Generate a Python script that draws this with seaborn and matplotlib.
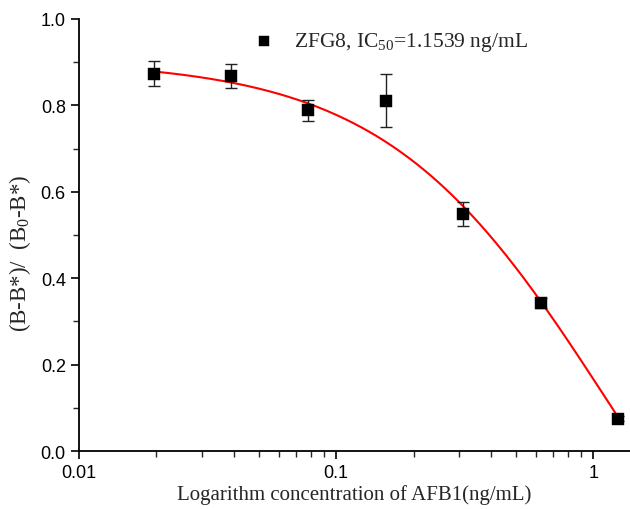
import numpy as np
import pandas as pd
import matplotlib
matplotlib.use("Agg")
import matplotlib.pyplot as plt
import seaborn as sns

# Data
conc = [0.0195, 0.039, 0.078, 0.156, 0.3125, 0.625, 1.25]
ratio = [0.873, 0.868, 0.789, 0.811, 0.548, 0.343, 0.075]
err = [0.029, 0.028, 0.024, 0.062, 0.028, 0.012, 0.005]

# Fitted 4-parameter logistic (Origin fit), parameters
A1, A2, X0, P = 0.905, -0.685, 1.1539, 1.0
legend_label = "ZFG8, IC$_{50}$=1.1539 ng/mL"

sns.set_style("ticks")
plt.rcParams["mathtext.fontset"] = "custom"
plt.rcParams["mathtext.rm"] = "Liberation Serif"
plt.rcParams["mathtext.it"] = "Liberation Serif:italic"

fig = plt.figure(figsize=(6.3, 5.1), dpi=100)
ax = fig.add_axes([0.1254, 0.1137, 0.8746, 0.8471])

xc = np.logspace(np.log10(conc[0]), np.log10(conc[-1]), 200)
yc = A2 + (A1 - A2) / (1 + (xc / X0) ** P)
fit = pd.DataFrame({"x": xc, "y": yc})
sns.lineplot(data=fit, x="x", y="y", ax=ax, color="#ff0000", lw=1.5, zorder=2)

ax.errorbar(conc, ratio, yerr=err, fmt="none", ecolor="#222222",
            elinewidth=1.0, capsize=4, capthick=1.0, zorder=3)
df = pd.DataFrame({"x": conc, "y": ratio})
sns.scatterplot(data=df, x="x", y="y", ax=ax, marker="s", s=75, color="black",
                edgecolor="black", linewidth=0.3, zorder=4, label=legend_label)

ax.set_xscale("log")
ax.set_xlim(0.01, 1.39)
ax.set_ylim(0, 1.0)
ax.set_yticks([0, 0.2, 0.4, 0.6, 0.8, 1.0])
ax.set_yticks([0.1, 0.3, 0.5, 0.7, 0.9], minor=True)
ax.set_xticks([0.01, 0.1, 1])
ax.set_xticklabels(["0.01", "0.1", "1"])
ax.set_yticklabels(["0.0", "0.2", "0.4", "0.6", "0.8", "1.0"])

sns.despine(ax=ax)
for s in ["left", "bottom"]:
    ax.spines[s].set_linewidth(1.3)
    ax.spines[s].set_color("black")
ax.tick_params(which="major", length=6, width=1.2, labelsize=13, colors="black",
               direction="out")
ax.tick_params(which="minor", length=4, width=1.0, direction="out")
for lab in ax.get_xticklabels() + ax.get_yticklabels():
    lab.set_fontfamily("Liberation Sans")

ax.set_xlabel("Logarithm concentration of AFB1(ng/mL)", fontsize=15,
              fontfamily="Liberation Serif", labelpad=2)
ax.set_ylabel("(B-B*)/  (B$_0$-B*)  ", fontsize=16.5,
              fontfamily="Liberation Serif")
ax.yaxis.set_label_coords(-0.084, 0.468)

leg = ax.legend(loc="center left", bbox_to_anchor=(0.262, 0.947), frameon=False,
                prop={"family": "Liberation Serif", "size": 15.5},
                handletextpad=0.4, markerscale=0.8)

fig.savefig("out.png", dpi=100)
